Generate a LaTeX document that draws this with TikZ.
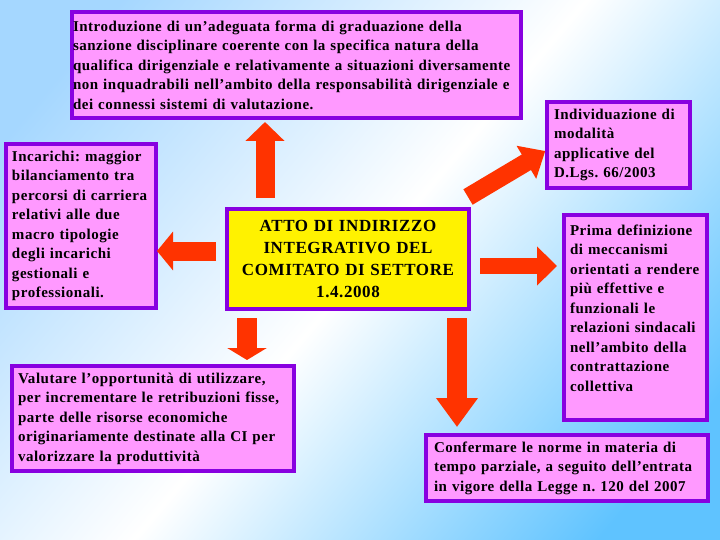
\documentclass[tikz,border=0pt]{standalone}
\usepackage{fontspec}
\setmainfont{Liberation Serif}[LetterSpace=3.5]
\frenchspacing
\usetikzlibrary{calc,arrows.meta}

\definecolor{boxpink}{RGB}{255,153,255}
\definecolor{boxline}{RGB}{136,0,224}
\definecolor{arrowred}{RGB}{255,51,0}
\definecolor{bgtl}{RGB}{165,215,255}
\definecolor{bgbr}{RGB}{95,195,255}

\pgfdeclarehorizontalshading{slideshade}{100bp}{color(0bp)=(bgtl); color(22bp)=(bgtl); color(50bp)=(white); color(78bp)=(bgbr); color(100bp)=(bgbr)}

\begin{document}
\begin{tikzpicture}[x=1pt, y=-1pt,
    box/.style={draw=boxline, fill=boxpink, line width=4pt, anchor=north west, outer sep=0pt, inner ysep=0pt, align=left, font=\bfseries\fontsize{15}{19.5}\selectfont},
    bigarrow/.style n args={3}{draw=arrowred, line width=#1, -{Triangle[width=#2, length=#3]}}]

    \shade[shading=slideshade, shading angle=-40] (0,0) rectangle (720,540);
    \useasboundingbox (0,0) rectangle (720,540);

    \node[box, text width=447pt, minimum height=106pt, inner xsep=1pt] (intro) at (72,12) {Introduzione di un’adeguata forma di graduazione della\\sanzione disciplinare coerente con la specifica natura della\\qualifica dirigenziale e relativamente a situazioni diversamente\\non inquadrabili nell’ambito della responsabilità dirigenziale e\\dei connessi sistemi di valutazione.};

    \node[box, text width=138pt, minimum height=164pt, inner xsep=6pt] (incarichi) at (6,144) {Incarichi: maggior\\bilanciamento tra\\percorsi di carriera\\relativi alle due\\macro tipologie\\degli incarichi\\gestionali e\\professionali.};

    \node[box, fill=yellow, text width=234pt, minimum height=100pt, inner xsep=4pt, align=center, font=\bfseries\fontsize{17}{21.7}\selectfont] (atto) at (227,209) {ATTO DI INDIRIZZO\\INTEGRATIVO DEL\\COMITATO DI SETTORE\\1.4.2008};

    \node[box, text width=129pt, minimum height=86pt, inner xsep=7pt] (modalita) at (547,102) {Individuazione di\\modalità\\applicative del\\D.Lgs. 66/2003};

    \node[box, text width=131pt, minimum height=205pt, inner xsep=6pt] (prima) at (564,215) {Prima definizione\\di meccanismi\\orientati a rendere\\più effettive e\\funzionali le\\relazioni sindacali\\nell’ambito della\\contrattazione\\collettiva\\~};

    \node[box, text width=270pt, minimum height=105pt, inner xsep=6pt] (valutare) at (12,366) {Valutare l’opportunità di utilizzare,\\per incrementare le retribuzioni fisse,\\parte delle risorse economiche\\originariamente destinate alla CI per\\valorizzare la produttività};

    \node[box, text width=266pt, minimum height=66pt, inner xsep=8pt] (confermare) at (426,435) {Confermare le norme in materia di\\tempo parziale, a seguito dell’entrata\\in vigore della Legge n. 120 del 2007};

    % frecce dal centro
    \draw[bigarrow={19pt}{38pt}{19pt}, shorten <=11pt, shorten >=4pt] ([xshift=-83pt]atto.north) -- ([xshift=-83pt]atto.north |- intro.south);
    \draw[bigarrow={19pt}{38pt}{16pt}, shorten <=11pt, shorten >=1pt] ([yshift=8pt]atto.west) -- ([yshift=8pt]atto.west -| incarichi.east);
    \draw[bigarrow={18pt}{37pt}{22pt}, shorten >=2pt] ([shift={(-1pt,12pt)}]atto.north east) -- ([yshift=-5pt]modalita.west);
    \draw[bigarrow={16pt}{38pt}{20pt}, shorten <=11pt, shorten >=7pt] ([yshift=-7pt]atto.east) -- ([yshift=-7pt]atto.east -| prima.west);
    \draw[bigarrow={20pt}{39pt}{12pt}, shorten <=9pt, shorten >=6pt] ([xshift=-101pt]atto.south) -- ([xshift=-101pt]atto.south |- valutare.north);
    \draw[bigarrow={20pt}{40pt}{29pt}, shorten <=9pt, shorten >=8pt] ([xshift=109pt]atto.south) -- ([xshift=109pt]atto.south |- confermare.north);

\end{tikzpicture}
\end{document}
